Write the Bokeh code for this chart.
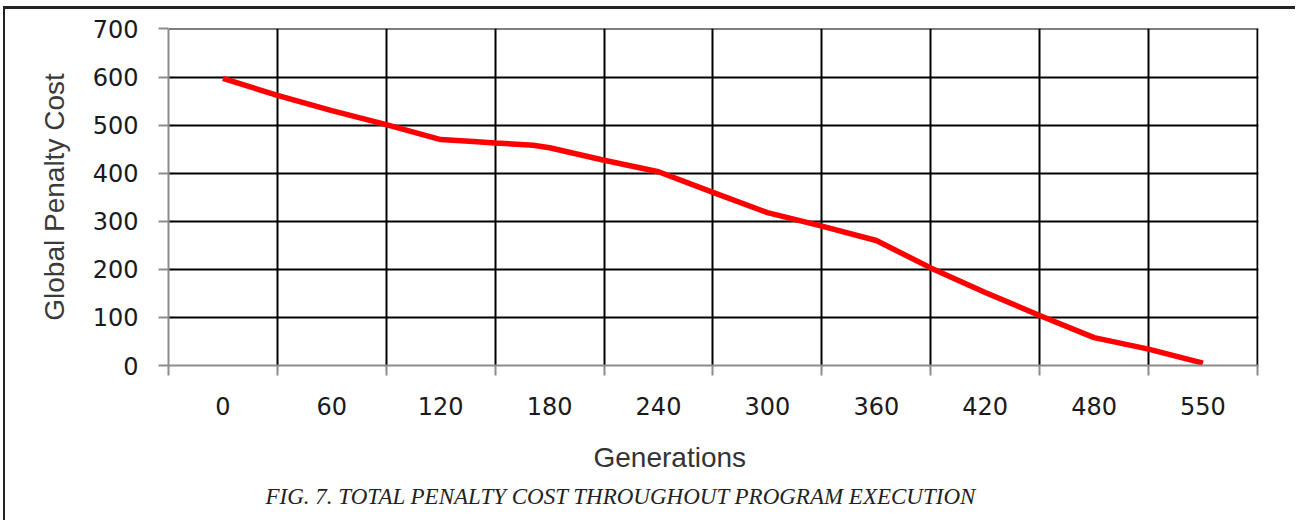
from bokeh.plotting import figure
from bokeh.models import FixedTicker, Range1d, Title
from bokeh.embed import file_html
from bokeh.resources import INLINE

# ---- data -------------------------------------------------------------
categories = ["0", "60", "120", "180", "240", "300", "360", "420", "480", "550"]
# position along the category axis (0 = "0", 9 = "550")
line_pos = [0, 0.5, 1.0, 1.5, 2.0, 2.3, 2.5, 2.85, 3.0, 3.5, 4.0, 4.5,
            5.0, 5.5, 6.0, 6.5, 7.0, 7.5, 8.0, 8.5, 9.0]
penalty = [597, 562, 530, 501, 470, 466, 463, 458, 453, 427, 403, 360,
           318, 290, 260, 203, 152, 104, 58, 34, 5]
y_ticks = [0, 100, 200, 300, 400, 500, 600, 700]

x_label = "Generations"
y_label = "Global Penalty Cost"
caption = "FIG. 7. TOTAL PENALTY COST THROUGHOUT PROGRAM EXECUTION"

# ---- figure -----------------------------------------------------------
n = len(categories)
p = figure(width=1292, height=514,
           x_range=Range1d(-0.5, n - 0.5 + 0.01),
           y_range=Range1d(0, 701),
           output_backend="svg", toolbar_location=None,
           min_border_left=163, min_border_right=39,
           min_border_top=19, min_border_bottom=158)
p.styles = {"margin-left": "3px", "margin-top": "6px",
            "border-top": "3px solid #222222", "border-left": "2px solid #222222"}
p.outline_line_color = None
p.background_fill_color = "white"
p.border_fill_color = "white"

axis_gray = "#8c8c8c"

# x axis: labels at category centres, ticks / grid at boundaries
xt = FixedTicker(ticks=list(range(n)), minor_ticks=[i - 0.5 for i in range(n + 1)])
p.xaxis.ticker = xt
p.xgrid.ticker = xt
p.xaxis.major_label_overrides = {i: c for i, c in enumerate(categories)}
p.xaxis.major_tick_out = 0
p.xaxis.major_tick_in = 0
p.xaxis.minor_tick_out = 10
p.xaxis.minor_tick_in = 0
p.xaxis.minor_tick_line_color = axis_gray
p.xaxis.minor_tick_line_width = 2
p.xaxis.axis_line_color = axis_gray
p.xaxis.axis_line_width = 2
p.xaxis.major_label_standoff = 21
p.xgrid.grid_line_color = None
p.xgrid.minor_grid_line_color = "black"
p.xgrid.minor_grid_line_width = 2

# y axis
yt = FixedTicker(ticks=y_ticks, minor_ticks=[])
p.yaxis.ticker = yt
p.ygrid.ticker = yt
p.yaxis.major_tick_out = 10
p.yaxis.major_tick_in = 0
p.yaxis.major_tick_line_color = axis_gray
p.yaxis.major_tick_line_width = 2
p.yaxis.axis_line_color = axis_gray
p.yaxis.axis_line_width = 2
p.yaxis.major_label_standoff = 20
p.ygrid.grid_line_color = "black"
p.ygrid.grid_line_width = 2

for ax in (p.xaxis, p.yaxis):
    ax.major_label_text_font = "DejaVu Sans"
    ax.major_label_text_font_size = "24px"
    ax.major_label_text_color = "#1a1a1a"

p.yaxis.axis_label = y_label
p.yaxis.axis_label_text_font = "Liberation Sans"
p.yaxis.axis_label_text_font_size = "28px"
p.yaxis.axis_label_text_font_style = "normal"
p.yaxis.axis_label_text_color = "#3a3a3a"
p.yaxis.axis_label_standoff = 20

# ---- line -------------------------------------------------------------
p.line(line_pos, penalty, line_color="#ff0000", line_width=5.5)

# ---- texts below the axis (spacer, axis title, caption) ----------------
p.add_layout(Title(text=" ", text_font_size="1px", standoff=16), "below")
p.add_layout(Title(text=x_label, align="left", offset=425, vertical_align="top",
                   text_font="Liberation Sans", text_font_size="28px",
                   text_font_style="normal", text_color="#333333",
                   standoff=10), "below")
p.add_layout(Title(text=caption, align="left", offset=97, vertical_align="top",
                   text_font="Liberation Serif", text_font_style="italic",
                   text_font_size="23px", text_color="#222222",
                   standoff=8), "below")

open("out.html", "w").write(file_html(p, INLINE))
